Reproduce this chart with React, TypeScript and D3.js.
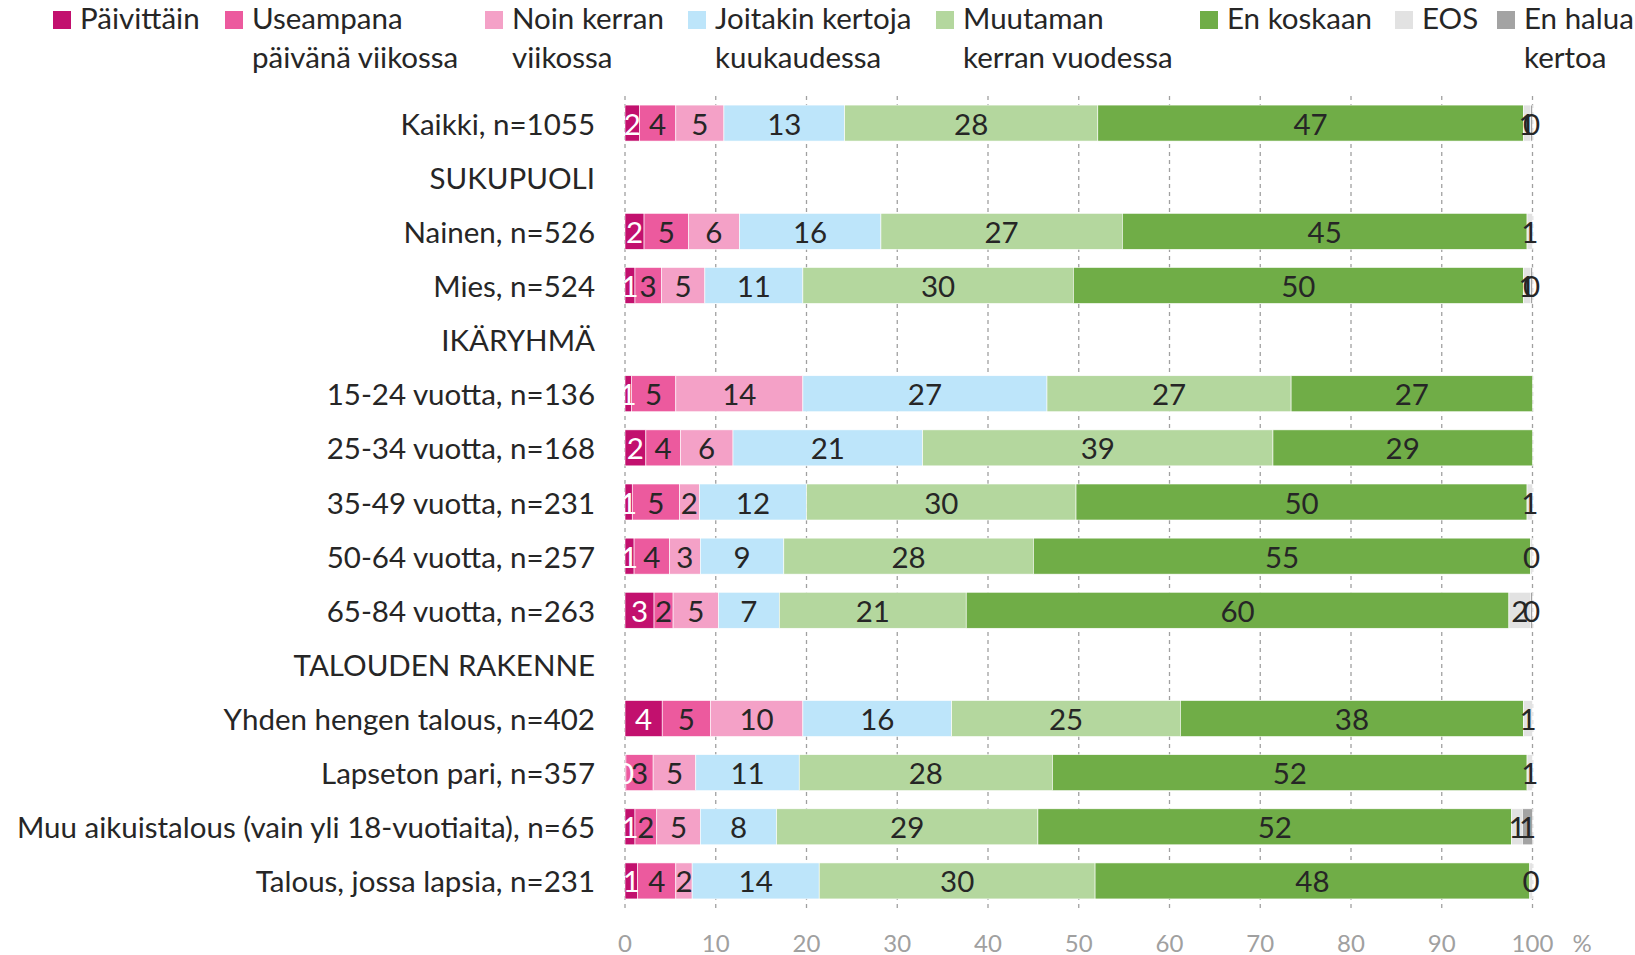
import React from "react";
import * as d3 from "d3";

const rowLabels = [
  "Kaikki, n=1055",
  "SUKUPUOLI",
  "Nainen, n=526",
  "Mies, n=524",
  "IKÄRYHMÄ",
  "15-24 vuotta, n=136",
  "25-34 vuotta, n=168",
  "35-49 vuotta, n=231",
  "50-64 vuotta, n=257",
  "65-84 vuotta, n=263",
  "TALOUDEN RAKENNE",
  "Yhden hengen talous, n=402",
  "Lapseton pari, n=357",
  "Muu aikuistalous (vain yli 18-vuotiaita), n=65",
  "Talous, jossa lapsia, n=231",
];

const seriesNames = [
  ["Päivittäin"],
  ["Useampana", "päivänä viikossa"],
  ["Noin kerran", "viikossa"],
  ["Joitakin kertoja", "kuukaudessa"],
  ["Muutaman", "kerran vuodessa"],
  ["En koskaan"],
  ["EOS"],
  ["En halua", "kertoa"],
];

const paivittain = [1.6, null, 2.1, 1.1, null, 0.7, 2.3, 0.8, 1.0, 3.2, null, 4.1, 0.1, 1.1, 1.4];
const useampana = [4.0, null, 4.9, 2.9, null, 4.9, 3.8, 5.2, 3.9, 2.1, null, 5.3, 3.0, 2.4, 4.2];
const noinKerran = [5.3, null, 5.6, 4.8, null, 14.0, 5.8, 2.2, 3.4, 5.0, null, 10.2, 4.7, 4.8, 1.8];
const joitakin = [13.3, null, 15.6, 10.8, null, 26.9, 20.9, 11.8, 9.2, 6.7, null, 16.4, 11.4, 8.4, 14.0];
const muutaman = [27.9, null, 26.6, 29.8, null, 26.9, 38.6, 29.7, 27.5, 20.6, null, 25.2, 27.9, 28.8, 30.4];
const enKoskaan = [46.9, null, 44.6, 49.6, null, 26.6, 28.6, 49.7, 54.8, 59.8, null, 37.8, 52.3, 52.2, 47.9];
const eos = [0.8, null, 0.6, 0.8, null, null, null, 0.6, 0.2, 2.4, null, 1.0, 0.6, 1.2, 0.3];
const enHalua = [0.2, null, null, 0.2, null, null, null, null, null, 0.2, null, null, null, 1.1, null];

const seriesValues = [paivittain, useampana, noinKerran, joitakin, muutaman, enKoskaan, eos, enHalua];
const colors = ["#C2106E", "#EC5A9E", "#F4A1C7", "#BDE5FA", "#B4D79E", "#70AD47", "#E2E2E2", "#A3A3A3"];
const labelColors = ["#FFFFFF", "#262626", "#262626", "#262626", "#262626", "#262626", "#262626", "#262626"];
const xTicks = [0, 10, 20, 30, 40, 50, 60, 70, 80, 90, 100];

const W = 1635;
const H = 955;
const FONT = "Lato, 'Open Sans', sans-serif";
const FS = 29.5;
const legendX = [53, 225, 485, 688, 936, 1200, 1395, 1497];

export default function App() {
  const x = d3.scaleLinear().domain([0, 100]).range([625, 1532.5]);
  const y = d3
    .scaleBand<number>()
    .domain(d3.range(rowLabels.length))
    .range([96, 908])
    .paddingInner(0.335)
    .paddingOuter(0.1675);

  const segs: any[] = [];
  rowLabels.forEach((_, i) => {
    let acc = 0;
    seriesValues.forEach((vals, s) => {
      const v = vals[i];
      if (v === null || v === undefined) return;
      segs.push({ row: i, s, x0: acc, x1: acc + v, v });
      acc += v;
    });
  });

  return (
    <svg
      width={W}
      height={H}
      style={{ position: "absolute", left: 0, top: 0, background: "#fff" }}
      fontFamily={FONT}
    >
      {xTicks.map((t) => (
        <line
          key={"g" + t}
          x1={x(t)}
          x2={x(t)}
          y1={96}
          y2={908}
          stroke="#A0A0A0"
          strokeWidth={1.3}
          strokeDasharray="4,4"
        />
      ))}
      {segs.map((d, k) => (
        <rect
          key={"r" + k}
          x={x(d.x0)}
          y={y(d.row)}
          width={Math.max(0, x(d.x1) - x(d.x0))}
          height={y.bandwidth()}
          fill={colors[d.s]}
          stroke="#fff"
          strokeWidth={0.6}
        />
      ))}
      {segs.map((d, k) => (
        <text
          key={"l" + k}
          x={(x(d.x0) + x(d.x1)) / 2}
          y={(y(d.row) as number) + y.bandwidth() / 2}
          textAnchor="middle"
          dominantBaseline="central"
          fontSize={FS}
          fill={labelColors[d.s]}
        >
          {Math.round(d.v)}
        </text>
      ))}
      {rowLabels.map((lab, i) => (
        <text
          key={"c" + i}
          x={595}
          y={(y(i) as number) + y.bandwidth() / 2}
          textAnchor="end"
          dominantBaseline="central"
          fontSize={FS}
          fill="#262626"
        >
          {lab}
        </text>
      ))}
      {xTicks.map((t) => (
        <text
          key={"t" + t}
          x={x(t)}
          y={942}
          textAnchor="middle"
          dominantBaseline="central"
          fontSize={24}
          fill="#A0A0A0"
        >
          {t}
        </text>
      ))}
      <text x={1582} y={942} textAnchor="middle" dominantBaseline="central" fontSize={24} fill="#A0A0A0">
        %
      </text>
      {seriesNames.map((lines, s) => (
        <g key={"lg" + s} transform={`translate(${legendX[s]},0)`}>
          <rect x={0} y={11} width={18} height={18} fill={colors[s]} />
          {lines.map((ln, j) => (
            <text key={j} x={27} y={29 + j * 39} fontSize={FS} fill="#262626">
              {ln}
            </text>
          ))}
        </g>
      ))}
    </svg>
  );
}
